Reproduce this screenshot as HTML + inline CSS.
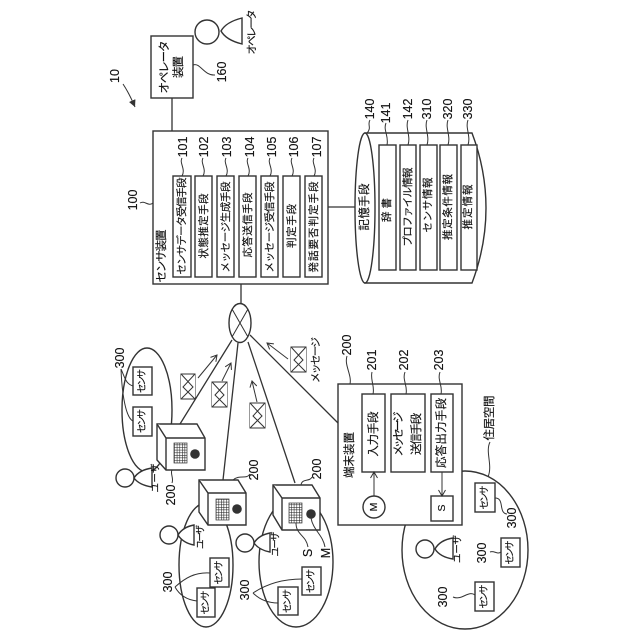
<!DOCTYPE html>
<html><head><meta charset="utf-8"><style>
html,body{margin:0;padding:0;background:#fff}
svg{display:block}
text{font-family:"Liberation Sans","Noto Sans CJK JP",sans-serif;fill:#111;stroke:#111;stroke-width:.15;text-anchor:middle;dominant-baseline:central}
.n{font-size:12.5px}
.t{font-size:10.5px}
.b{font-size:11.5px}
.u{font-size:9.5px}
.l{fill:none;stroke:#333;stroke-width:1}
.s{fill:#fff;stroke:#333;stroke-width:1.4}
.m{fill:none;stroke:#333;stroke-width:1.3}
</style></head><body>
<svg width="640" height="640" viewBox="0 0 640 640" xmlns="http://www.w3.org/2000/svg">
<defs>
<marker id="a" markerWidth="8" markerHeight="8" refX="7" refY="4" orient="auto" markerUnits="userSpaceOnUse"><path d="M1 .5L7 4L1 7.5" fill="none" stroke="#333" stroke-width="1"/></marker>
<marker id="f" markerWidth="8" markerHeight="8" refX="7" refY="4" orient="auto" markerUnits="userSpaceOnUse"><path d="M0 .5L7 4L0 7.5Z" fill="#333"/></marker>
<pattern id="grid" width="2.6" height="2.6" patternUnits="userSpaceOnUse"><rect width="2.6" height="2.6" fill="#fff"/><path d="M0 0H2.6M0 0V2.6" stroke="#222" stroke-width="1.1"/></pattern>
</defs>

<!-- ellipses -->
<ellipse class="s" cx="147" cy="410" rx="25" ry="62"/>
<ellipse class="s" cx="206" cy="565" rx="27" ry="62"/>
<ellipse class="s" cx="296" cy="562" rx="37" ry="65"/>
<ellipse class="s" cx="465" cy="550" rx="63" ry="79"/>

<!-- connectors -->
<g class="m">
<path d="M172 98V131M241 284V304M328 207H355"/>
<path d="M232 340L180 424M238 343L223 480M248 342L295 483M250 335L338 423"/>
</g>

<!-- operator -->
<rect class="s" x="151" y="36" width="42" height="62"/>
<text class="b" transform="translate(165 67) rotate(-90)" textLength="53">オペレータ</text>
<text class="b" transform="translate(179 67) rotate(-90)" textLength="22">装置</text>
<path class="l" d="M193 65C200 62 204 76 215 75"/>
<text class="n" transform="translate(222 72) rotate(-90)">160</text>
<circle class="s" cx="207" cy="32" r="12"/>
<path class="s" d="M242 18V44Q226 40 221 31Q226 22 242 18Z"/>
<text class="t" transform="translate(252 32) rotate(-90)" textLength="45">オペレータ</text>

<text class="n" transform="translate(115 76) rotate(-90)">10</text>
<path class="l" d="M123 84Q129 93 135 107" marker-end="url(#f)"/>

<!-- center device -->
<text class="n" transform="translate(133 200) rotate(-90)">100</text>
<path class="l" d="M140 203C145 200 148 207 153 203"/>
<rect class="s" x="153" y="131" width="175" height="153"/>
<text class="b" transform="translate(162 256) rotate(-90)" textLength="53">センサ装置</text>
<g class="s">
<rect x="173" y="176" width="18" height="101"/>
<rect x="195" y="176" width="17" height="101"/>
<rect x="217" y="176" width="17" height="101"/>
<rect x="239" y="176" width="17" height="101"/>
<rect x="261" y="176" width="17" height="101"/>
<rect x="283" y="176" width="17" height="101"/>
<rect x="305" y="176" width="17" height="101"/>
</g>
<text class="t" transform="translate(182 226) rotate(-90)" textLength="97">センサデータ受信手段</text>
<text class="t" transform="translate(204 226) rotate(-90)" textLength="65">状態推定手段</text>
<text class="t" transform="translate(226 227) rotate(-90)" textLength="91">メッセージ生成手段</text>
<text class="t" transform="translate(248 225) rotate(-90)" textLength="65">応答送信手段</text>
<text class="t" transform="translate(270 227) rotate(-90)" textLength="91">メッセージ受信手段</text>
<text class="t" transform="translate(292 226) rotate(-90)" textLength="44">判定手段</text>
<text class="t" transform="translate(314 227) rotate(-90)" textLength="91">発話要否判定手段</text>
<g class="n">
<text transform="translate(183 147) rotate(-90)">101</text>
<text transform="translate(204 147) rotate(-90)">102</text>
<text transform="translate(227 147) rotate(-90)">103</text>
<text transform="translate(250 147) rotate(-90)">104</text>
<text transform="translate(272 147) rotate(-90)">105</text>
<text transform="translate(294 147) rotate(-90)">106</text>
<text transform="translate(317 147) rotate(-90)">107</text>
</g>
<path class="l" d="M182 158C179 163 186 169 182 176M203 158C200 163 207 169 203 176M226 158C223 163 230 169 226 176M248 158C245 163 252 169 248 176M270 158C267 163 274 169 270 176M292 158C289 163 296 169 292 176M314 158C311 163 318 169 314 176"/>

<!-- storage -->
<path class="s" d="M365 133H472Q486 170 486 208Q486 246 472 283H365Z"/>
<ellipse class="s" cx="365" cy="208" rx="10" ry="75"/>
<g class="s">
<rect x="379" y="145" width="17" height="125"/>
<rect x="400" y="145" width="16" height="125"/>
<rect x="420" y="145" width="17" height="125"/>
<rect x="440" y="145" width="17" height="125"/>
<rect x="461" y="145" width="16" height="125"/>
</g>
<text class="b" transform="translate(365 207) rotate(-90)" textLength="47">記憶手段</text>
<text class="t" transform="translate(387 210) rotate(-90)" textLength="24">辞書</text>
<text class="t" transform="translate(408 207) rotate(-90)" textLength="79">プロファイル情報</text>
<text class="t" transform="translate(428 205) rotate(-90)" textLength="55">センサ情報</text>
<text class="t" transform="translate(448 207) rotate(-90)" textLength="66">推定条件情報</text>
<text class="t" transform="translate(468 207) rotate(-90)" textLength="45">推定情報</text>
<g class="n">
<text transform="translate(370 109) rotate(-90)">140</text>
<text transform="translate(386 113) rotate(-90)">141</text>
<text transform="translate(408 109) rotate(-90)">142</text>
<text transform="translate(427 109) rotate(-90)">310</text>
<text transform="translate(448 109) rotate(-90)">320</text>
<text transform="translate(468 109) rotate(-90)">330</text>
</g>
<path class="l" d="M370 120C367 124 372 128 367 133M386 123C383 130 389 136 387 145M408 120C405 128 411 136 408 145M427 120C424 128 430 136 427 145M448 120C445 128 451 136 448 145M468 120C465 128 471 136 468 145"/>

<!-- hub -->
<ellipse class="s" cx="240" cy="323" rx="11" ry="19.5"/>
<path class="l" d="M232 309L248 337M248 309L232 337"/>

<!-- envelopes and arrows -->
<g class="s" style="stroke-width:1">
<rect x="181" y="374" width="14" height="25"/><path d="M181 374L193 387L181 399M195 374L183 387L195 399"/>
<rect x="212" y="382" width="15" height="25"/><path d="M212 382L224 395L212 407M227 382L215 395L227 407"/>
<rect x="250" y="403" width="15" height="25"/><path d="M250 403L262 416L250 428M265 403L253 416L265 428"/>
<rect x="291" y="347" width="15" height="25"/><path d="M291 347L303 360L291 372M306 347L294 360L306 372"/>
</g>
<g class="l">
<path d="M198 378L217 355" marker-end="url(#a)"/>
<path d="M222 381L231 363" marker-end="url(#a)"/>
<path d="M257 402L252 381" marker-end="url(#a)"/>
<path d="M288 359L267 343" marker-end="url(#a)"/>
</g>
<text class="t" transform="translate(316 360) rotate(-90)" textLength="46">メッセージ</text>

<!-- group 1 -->
<rect class="s" x="133" y="367" width="19" height="28"/>
<rect class="s" x="133" y="407" width="19" height="29"/>
<text class="u" transform="translate(142.500 381) rotate(-90)" textLength="24">センサ</text>
<text class="u" transform="translate(142.500 421) rotate(-90)" textLength="24">センサ</text>
<text class="n" transform="translate(120 358) rotate(-90)">300</text>
<path class="l" d="M121 369C125 378 126 384 133 386M121 369C122 395 126 418 133 421"/>
<circle class="s" cx="125" cy="478" r="9"/>
<path class="s" d="M152 468V487Q139 485 134 478Q139 470 152 468Z"/>
<text class="u" transform="translate(156 478) rotate(-90)" textLength="29">ユーザ</text>

<!-- safe 1 -->
<path class="s" d="M157 424H197L205 438V470H166L157 460Z"/>
<path class="s" d="M157 424L166 438H205M166 438V470"/>
<rect x="174" y="443" width="13" height="20" fill="url(#grid)" stroke="#333" stroke-width=".7"/>
<circle cx="195" cy="454" r="4.800" fill="#333"/>
<text class="n" transform="translate(171 495) rotate(-90)">200</text>
<path class="l" d="M172 470C170 474 174 478 172 483"/>

<!-- group 2 -->
<rect class="s" x="210" y="558" width="19" height="29"/>
<rect class="s" x="197" y="588" width="18" height="29"/>
<text class="u" transform="translate(219.500 572.500) rotate(-90)" textLength="24">センサ</text>
<text class="u" transform="translate(206 602.500) rotate(-90)" textLength="24">センサ</text>
<text class="n" transform="translate(168 582) rotate(-90)">300</text>
<path class="l" d="M175 587C185 578 195 572 210 573M175 587C180 596 188 600 197 601"/>
<circle class="s" cx="169" cy="535" r="9"/>
<path class="s" d="M194 525V545Q183 543 178 535Q183 527 194 525Z"/>
<text class="u" transform="translate(201 537) rotate(-90)" textLength="24">ユーザ</text>

<!-- safe 2 -->
<path class="s" d="M199 480H238L246 493V525H208L199 512Z"/>
<path class="s" d="M199 480L208 493H246M208 493V525"/>
<rect x="216" y="499" width="13" height="21" fill="url(#grid)" stroke="#333" stroke-width=".7"/>
<circle cx="237" cy="509" r="4.800" fill="#333"/>
<text class="n" transform="translate(254 470) rotate(-90)">200</text>
<path class="l" d="M233 480C240 474 246 480 250 474"/>

<!-- group 3 -->
<rect class="s" x="302" y="567" width="19" height="28"/>
<rect class="s" x="278" y="587" width="20" height="28"/>
<text class="u" transform="translate(311.500 581) rotate(-90)" textLength="24">センサ</text>
<text class="u" transform="translate(288 601) rotate(-90)" textLength="24">センサ</text>
<text class="n" transform="translate(245 590) rotate(-90)">300</text>
<path class="l" d="M253 593C268 583 285 579 302 579M253 593C260 600 268 603 278 603"/>
<circle class="s" cx="245" cy="543" r="9"/>
<path class="s" d="M270 533V552Q259 550 254 543Q259 535 270 533Z"/>
<text class="u" transform="translate(276 544) rotate(-90)" textLength="25">ユーザ</text>

<!-- safe 3 -->
<path class="s" d="M273 485H312L320 498V530H282L273 515Z"/>
<path class="s" d="M273 485L282 498H320M282 498V530"/>
<rect x="289" y="503" width="13" height="20" fill="url(#grid)" stroke="#333" stroke-width=".7"/>
<circle cx="311" cy="514" r="4.800" fill="#333"/>
<text class="n" transform="translate(317 469) rotate(-90)">200</text>
<path class="l" d="M301 485C302 478 310 482 312 477"/>
<path class="l" d="M296 523C296 535 306 535 308 547M311 518C313 530 323 535 325 547"/>
<text class="n" transform="translate(308 553) rotate(-90)">S</text>
<text class="n" transform="translate(326 553) rotate(-90)">M</text>

<!-- terminal device -->
<text class="n" transform="translate(347 345) rotate(-90)">200</text>
<path class="l" d="M347 356C344 365 352 375 350 384"/>
<rect class="s" x="338" y="384" width="124" height="141"/>
<text class="b" transform="translate(350 455) rotate(-90)" textLength="46">端末装置</text>
<rect class="s" x="362" y="394" width="23" height="78"/>
<rect class="s" x="391" y="394" width="34" height="78"/>
<rect class="s" x="431" y="394" width="22" height="78"/>
<rect class="s" x="431" y="496" width="22" height="25"/>
<circle class="s" cx="374" cy="507" r="11"/>
<text class="b" transform="translate(374 434) rotate(-90)" textLength="45">入力手段</text>
<text class="b" transform="translate(399 434) rotate(-90)" textLength="45">メッセージ</text>
<text class="b" transform="translate(417 434) rotate(-90)" textLength="42">送信手段</text>
<text class="b" transform="translate(442 433) rotate(-90)" textLength="70">応答出力手段</text>
<text class="t" transform="translate(442 508) rotate(-90)">S</text>
<text class="t" transform="translate(374 507) rotate(-90)">M</text>
<path class="l" d="M374 496V472" marker-end="url(#a)"/>
<path class="l" d="M442 472V496" marker-end="url(#a)"/>
<g class="n">
<text transform="translate(372 360) rotate(-90)">201</text>
<text transform="translate(404 360) rotate(-90)">202</text>
<text transform="translate(439 360) rotate(-90)">203</text>
</g>
<path class="l" d="M372 372C370 380 375 386 373 394M405 372C402 380 408 386 406 394M440 372C437 380 443 386 441 394"/>

<!-- living space -->
<text class="b" transform="translate(490 418) rotate(-90)" textLength="45">住居空間</text>
<path class="l" d="M490 442C485 452 493 465 488 477"/>
<rect class="s" x="475" y="483" width="20" height="29"/>
<rect class="s" x="501" y="538" width="19" height="29"/>
<rect class="s" x="475" y="582" width="19" height="29"/>
<text class="u" transform="translate(485 497.500) rotate(-90)" textLength="24">センサ</text>
<text class="u" transform="translate(510.500 552.500) rotate(-90)" textLength="24">センサ</text>
<text class="u" transform="translate(484.500 596.500) rotate(-90)" textLength="24">センサ</text>
<text class="n" transform="translate(512 518) rotate(-90)">300</text>
<text class="n" transform="translate(482 553) rotate(-90)">300</text>
<text class="n" transform="translate(443 597) rotate(-90)">300</text>
<path class="l" d="M495 498C505 498 498 513 507 514M490 552C494 550 497 555 501 552M453 597C462 601 468 590 475 595"/>
<circle class="s" cx="425" cy="549" r="9"/>
<path class="s" d="M453 538V559Q440 557 435 549Q440 540 453 538Z"/>
<text class="u" transform="translate(458 549) rotate(-90)" textLength="28">ユーザ</text>
</svg>
</body></html>
